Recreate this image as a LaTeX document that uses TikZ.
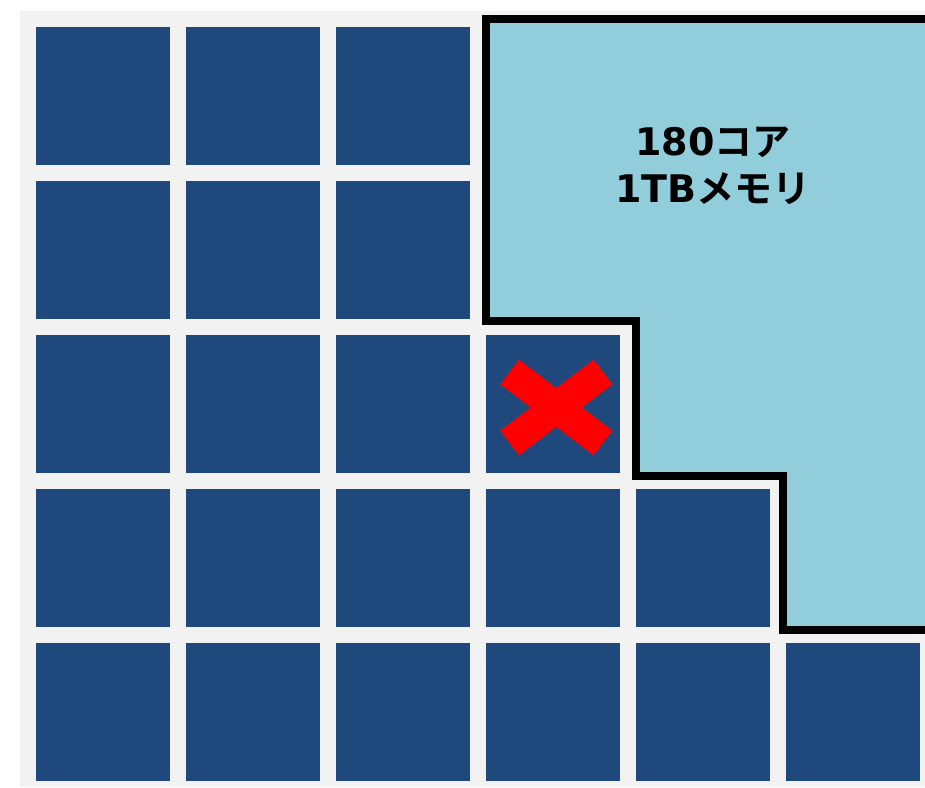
\documentclass[tikz,border=0pt]{standalone}
\usepackage{fontspec}
\newfontfamily\jpbold{Noto Sans CJK JP Bold}
\newfontfamily\latbold{DejaVu Sans Bold}

\definecolor{bggray}{HTML}{F2F2F2}
\definecolor{cellblue}{HTML}{1F497D}
\definecolor{memblue}{HTML}{92CDDC}

\tikzset{
  cell/.style={fill=cellblue},
  membox/.style={fill=memblue,draw=black,line width=8pt,line join=miter},
  failmark/.style={draw=red,line width=31pt},
}

\begin{document}
\begin{tikzpicture}[x=1pt,y=-1pt]
\useasboundingbox (0,0) rectangle (925,787);
\fill[bggray] (20,11) rectangle (925,787);

% node grid
\foreach \c in {0,...,5}
  \foreach \r in {0,...,4}
    \path[cell] (36+150*\c,27+154*\r) rectangle ++(134,138);

% allocated area
\path[membox] (940,19) -- (486,19) -- (486,321) -- (636,321) -- (636,476)
  -- (783,476) -- (783,630) -- (940,630) -- cycle;
\node[font=\fontsize{38}{47}\selectfont,align=center] (mem) at (713,166)
  {{\latbold 180}{\jpbold コア}\\{\latbold 1TB}{\jpbold メモリ}};

% failed node
\coordinate (xa) at (509.5,372);
\coordinate (xb) at (603,443);
\coordinate (xc) at (509.5,443);
\coordinate (xd) at (603,372);
\path[failmark] (xa) -- (xb) (xc) -- (xd);
\end{tikzpicture}
\end{document}
